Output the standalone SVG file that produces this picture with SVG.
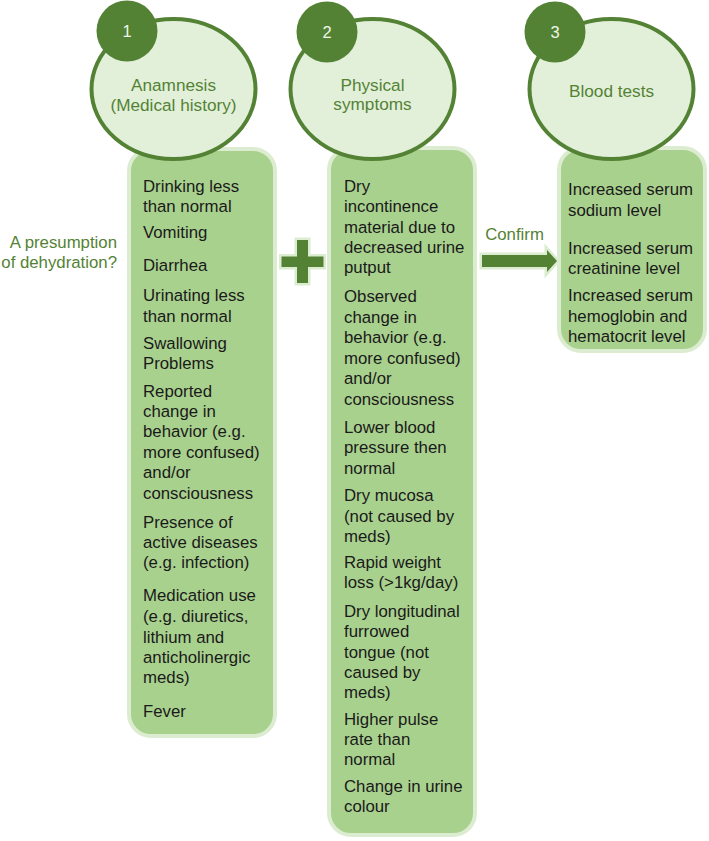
<svg xmlns="http://www.w3.org/2000/svg" width="709" height="841" viewBox="0 0 709 841">
<style>
  .box { fill: #a9d18e; stroke: #dcecd0; stroke-width: 4; }
  .ell { fill: #e2f0d9; stroke: #548235; stroke-width: 4; }
  .num { fill: #548235; }
  .numt { font-family: "Liberation Sans", Arial, sans-serif; font-size: 16.5px; fill: #eef6e8; text-anchor: middle; }
  .head { font-family: "Liberation Sans", Arial, sans-serif; font-size: 17.2px; fill: #548235; text-anchor: middle; }
  .item { font-family: "Liberation Sans", Arial, sans-serif; font-size: 16.8px; fill: #1a1a1a; }
  .lbl { font-family: "Liberation Sans", Arial, sans-serif; font-size: 16.8px; fill: #548235; }
  .conn { fill: #548235; stroke: #dcecd0; stroke-width: 5; paint-order: stroke; stroke-linejoin: miter; }
</style>

<g id="list-1">
  <rect class="box" x="129" y="149" width="146" height="587" rx="22"/>
  <text class="item">
    <tspan x="143" y="192">Drinking less</tspan>
    <tspan x="143" y="212">than normal</tspan>
    <tspan x="143" y="238">Vomiting</tspan>
    <tspan x="143" y="271">Diarrhea</tspan>
    <tspan x="143" y="301">Urinating less</tspan>
    <tspan x="143" y="322">than normal</tspan>
    <tspan x="143" y="349">Swallowing</tspan>
    <tspan x="143" y="369">Problems</tspan>
    <tspan x="143" y="397">Reported</tspan>
    <tspan x="143" y="417">change in</tspan>
    <tspan x="143" y="437">behavior (e.g.</tspan>
    <tspan x="143" y="458">more confused)</tspan>
    <tspan x="143" y="478">and/or</tspan>
    <tspan x="143" y="499">consciousness</tspan>
    <tspan x="143" y="528">Presence of</tspan>
    <tspan x="143" y="548">active diseases</tspan>
    <tspan x="143" y="568">(e.g. infection)</tspan>
    <tspan x="143" y="601">Medication use</tspan>
    <tspan x="143" y="622">(e.g. diuretics,</tspan>
    <tspan x="143" y="643">lithium and</tspan>
    <tspan x="143" y="663">anticholinergic</tspan>
    <tspan x="143" y="683">meds)</tspan>
    <tspan x="143" y="717">Fever</tspan>
  </text>
</g>

<g id="list-2">
  <rect class="box" x="329" y="148" width="146" height="687" rx="22"/>
  <text class="item">
    <tspan x="344" y="192">Dry</tspan>
    <tspan x="344" y="212">incontinence</tspan>
    <tspan x="344" y="233">material due to</tspan>
    <tspan x="344" y="253">decreased urine</tspan>
    <tspan x="344" y="273">putput</tspan>
    <tspan x="344" y="302">Observed</tspan>
    <tspan x="344" y="323">change in</tspan>
    <tspan x="344" y="343">behavior (e.g.</tspan>
    <tspan x="344" y="364">more confused)</tspan>
    <tspan x="344" y="384">and/or</tspan>
    <tspan x="344" y="405">consciousness</tspan>
    <tspan x="344" y="433">Lower blood</tspan>
    <tspan x="344" y="453">pressure then</tspan>
    <tspan x="344" y="474">normal</tspan>
    <tspan x="344" y="501">Dry mucosa</tspan>
    <tspan x="344" y="522">(not caused by</tspan>
    <tspan x="344" y="542">meds)</tspan>
    <tspan x="344" y="568">Rapid weight</tspan>
    <tspan x="344" y="588">loss (&gt;1kg/day)</tspan>
    <tspan x="344" y="617">Dry longitudinal</tspan>
    <tspan x="344" y="637">furrowed</tspan>
    <tspan x="344" y="658">tongue (not</tspan>
    <tspan x="344" y="678">caused by</tspan>
    <tspan x="344" y="698">meds)</tspan>
    <tspan x="344" y="725">Higher pulse</tspan>
    <tspan x="344" y="745">rate than</tspan>
    <tspan x="344" y="765">normal</tspan>
    <tspan x="344" y="792">Change in urine</tspan>
    <tspan x="344" y="812">colour</tspan>
  </text>
</g>

<g id="list-3">
  <rect class="box" x="559" y="148" width="146" height="203" rx="22"/>
  <text class="item">
    <tspan x="568" y="195">Increased serum</tspan>
    <tspan x="568" y="216">sodium level</tspan>
    <tspan x="568" y="254">Increased serum</tspan>
    <tspan x="568" y="274">creatinine level</tspan>
    <tspan x="568" y="301">Increased serum</tspan>
    <tspan x="568" y="322">hemoglobin and</tspan>
    <tspan x="568" y="342">hematocrit level</tspan>
  </text>
</g>

<g id="step-1">
  <ellipse class="ell" cx="173.5" cy="89" rx="82" ry="70"/>
  <circle class="num" cx="127" cy="31" r="30.5"/>
  <text class="numt" x="127" y="37">1</text>
  <text class="head" x="173.5" y="91">Anamnesis</text>
  <text class="head" x="173.5" y="111">(Medical history)</text>
</g>

<g id="step-2">
  <ellipse class="ell" cx="372.5" cy="89" rx="82" ry="70"/>
  <circle class="num" cx="327" cy="32" r="30.5"/>
  <text class="numt" x="327" y="38">2</text>
  <text class="head" x="372.5" y="91">Physical</text>
  <text class="head" x="372.5" y="110">symptoms</text>
</g>

<g id="step-3">
  <ellipse class="ell" cx="611.5" cy="89" rx="82" ry="70"/>
  <circle class="num" cx="555" cy="32" r="30.5"/>
  <text class="numt" x="555" y="38">3</text>
  <text class="head" x="611.5" y="97">Blood tests</text>
</g>

<g id="question">
  <text class="lbl" text-anchor="end" x="117" y="248">A presumption</text>
  <text class="lbl" text-anchor="end" x="117" y="268">of dehydration?</text>
</g>

<g id="connectors">
  <path id="plus" class="conn" d="M297,240 H308 V256.5 H323.5 V267 H308 V283 H297 V267 H281.5 V256.5 H297 Z"/>
  <path id="confirm-arrow" class="conn" d="M482,255 H547 V250 L557,261 L547,272 V267 H482 Z"/>
  <text class="lbl" text-anchor="middle" x="514.5" y="240">Confirm</text>
</g>
</svg>
